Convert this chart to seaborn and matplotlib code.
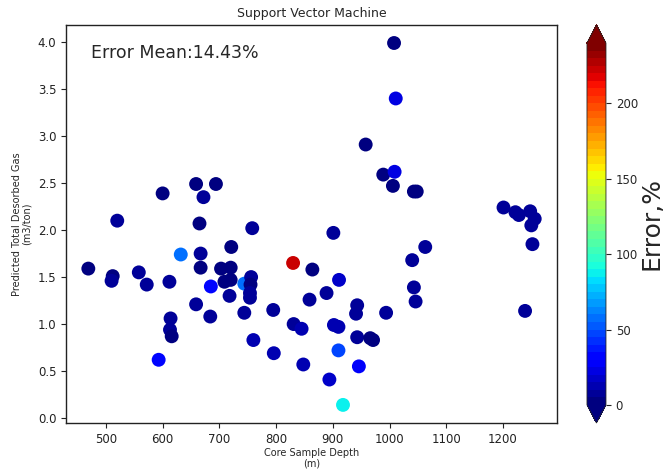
import matplotlib
matplotlib.use("Agg")
import matplotlib.pyplot as plt
import matplotlib as mpl
import numpy as np
import pandas as pd
import seaborn as sns

depth = [469, 512, 510, 520, 558, 572, 593, 600, 612, 614, 613, 616, 632, 659, 659,
         665, 667, 667, 672, 685, 684, 694, 703, 709, 720, 721, 720, 718, 744, 744,
         756, 755, 754, 754, 758, 760, 795, 796, 830, 831, 845, 848, 864, 859, 889,
         901, 894, 911, 902, 910, 910, 918, 943, 941, 943, 946, 958, 966, 971, 989,
         994, 1006, 1008, 1011, 1009, 1043, 1048, 1040, 1043, 1046, 1063, 1201, 1222,
         1228, 1248, 1256, 1250, 1252, 1239]
predicted = [1.59, 1.51, 1.46, 2.10, 1.55, 1.42, 0.62, 2.39, 1.45, 1.06, 0.94, 0.87, 1.74, 2.49, 1.21,
             2.07, 1.75, 1.60, 2.35, 1.40, 1.08, 2.49, 1.59, 1.45, 1.47, 1.82, 1.60, 1.30, 1.12, 1.43,
             1.50, 1.42, 1.33, 1.28, 2.02, 0.83, 1.15, 0.69, 1.65, 1.00, 0.95, 0.57, 1.58, 1.26, 1.33,
             1.97, 0.41, 1.47, 0.99, 0.97, 0.72, 0.14, 1.20, 1.11, 0.86, 0.55, 2.91, 0.85, 0.83, 2.59,
             1.12, 2.47, 3.99, 3.40, 2.62, 2.41, 2.41, 1.68, 1.39, 1.24, 1.82, 2.24, 2.19,
             2.16, 2.20, 2.12, 2.05, 1.85, 1.14]
error_pct = [3, 2, 6, 6, 9, 7, 30, 4, 6, 8, 7, 3, 55, 4, 6,
             4, 6, 3, 5, 30, 7, 4, 3, 2, 3, 4, 3, 6, 7, 55,
             6, 4, 7, 8, 7, 12, 8, 14, 222, 6, 10, 12, 3, 6, 5,
             8, 16, 16, 12, 13, 45, 88, 5, 7, 6, 26, 3, 4, 2, 4,
             7, 4, 3, 22, 22, 4, 3, 5, 6, 7, 5, 5, 6,
             8, 5, 6, 7, 6, 7]

cbar_ticks = [0, 50, 100, 150, 200]
title = "Support Vector Machine"
annot = "Error Mean:14.43%"

df = pd.DataFrame({"depth": depth, "pred": predicted, "err": error_pct})

sns.set_style("white")
plt.rcParams["font.family"] = ["DejaVu Sans"]

fig = plt.figure(figsize=(6.64, 4.70), dpi=100)
ax = fig.add_axes([0.0994, 0.10, 0.7395, 0.847])
cax = fig.add_axes([0.884, 0.10, 0.0286, 0.847])

cmap = mpl.colormaps["jet"].resampled(48)
norm = mpl.colors.Normalize(vmin=0, vmax=240)

sns.scatterplot(data=df, x="depth", y="pred", hue="err", palette=cmap, hue_norm=norm,
                s=100, edgecolor="none", linewidth=0, legend=False, ax=ax)

ax.set_title(title, fontsize=9)
ax.set_xlabel("Core Sample Depth\n(m)", fontsize=7, linespacing=1.0, labelpad=2)
ax.set_ylabel("Predicted Total Desorbed Gas\n(m3/ton)", fontsize=7, linespacing=1.0)
ax.tick_params(axis="both", labelsize=8.5, length=3.5, width=0.8, direction="out",
               bottom=True, left=True, colors="#222222")
ax.set_xticks([500, 600, 700, 800, 900, 1000, 1100, 1200])
ax.set_yticks(np.arange(0, 4.01, 0.5))
ax.yaxis.set_major_formatter(mpl.ticker.FormatStrFormatter("%.1f"))
for sp in ax.spines.values():
    sp.set_color("#222222")
    sp.set_linewidth(1.0)
ax.text(0.05, 0.93, annot, transform=ax.transAxes, fontsize=12.5, va="center", ha="left")

sm = mpl.cm.ScalarMappable(norm=norm, cmap=cmap)
cb = fig.colorbar(sm, cax=cax, extend="both", ticks=cbar_ticks)
cb.ax.tick_params(labelsize=8.5, length=3.5)
cb.set_label("Error,%", fontsize=18, labelpad=1)
cb.outline.set_linewidth(0.6)

fig.savefig("out.png", dpi=100)
